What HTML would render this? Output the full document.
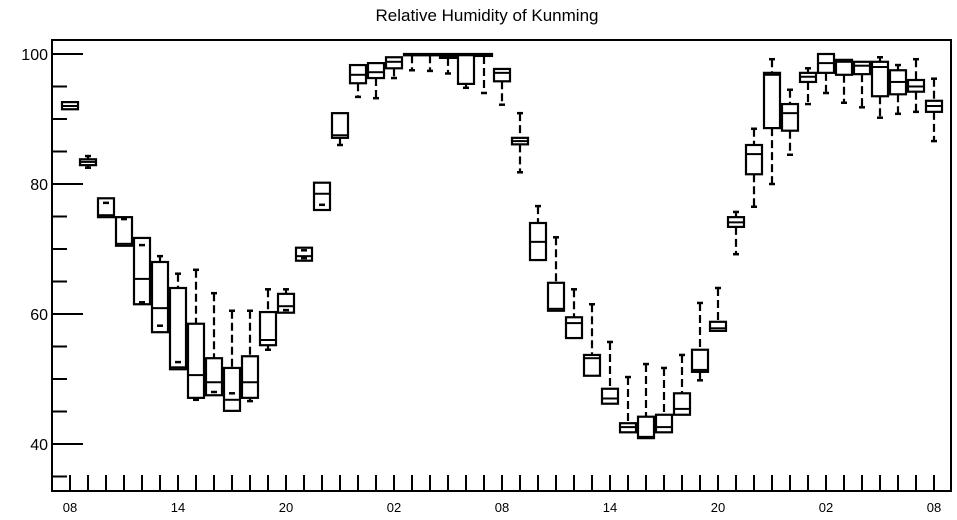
<!DOCTYPE html>
<html><head><meta charset="utf-8"><style>
html,body{margin:0;padding:0;background:#fff;}
svg{display:block;font-family:"Liberation Sans",Arial,sans-serif;}
</style></head><body>
<svg id="chart" width="957" height="520" viewBox="0 0 957 520" xmlns="http://www.w3.org/2000/svg">
<text x="487" y="21" font-size="17" text-anchor="middle">Relative Humidity of Kunming</text>
<g id="axes"></g>
<g id="boxes"></g>
<rect x="52" y="40" width="899" height="451" fill="none" stroke="#000" stroke-width="2"/>
</svg>
<script>
const xTickLabels = ["08","14","20","02","08","14","20","02","08"];
const yTickValues = [40,60,80,100];
const hiVals  = [92.6,84.3,77.1,74.6,70.6,68.9,66.2,66.8,63.2,60.5,60.5,63.8,63.8,69.8,80.2,90.9,98.3,98.6,99.5,100,100,100,100,100,97.7,90.9,76.6,71.8,63.8,61.5,55.7,50.3,52.3,51.7,53.7,61.7,64,75.7,88.5,99.2,94.5,97.8,100,99.1,98.8,99.5,98.3,99.2,96.2];
const q3Vals  = [92.6,83.8,77.8,74.9,71.7,68.0,64.0,58.5,53.2,51.7,53.5,60.3,63.1,70.2,80.2,90.9,98.3,98.6,99.5,100,100,100,100,100,97.7,87.1,74.0,64.8,59.5,53.7,48.5,43.2,44.2,44.5,47.8,54.5,58.8,74.9,86.0,97.1,92.3,97.1,100,99.1,98.8,98.8,97.5,96,92.8];
const medVals = [92,83.4,75.2,70.8,65.4,60.9,51.8,50.6,49.5,46.8,49.5,56,61.2,68.9,78.5,87.5,96.8,97.2,98.8,100,100,99.7,99.8,99.8,97.1,86.6,71.1,60.8,58.6,53.2,47.0,42.6,41.1,42.6,45.4,51.4,57.8,74.1,84.6,96.8,90.9,96.5,98.6,98.8,98.2,98,95.7,95,92];
const q1Vals  = [91.5,82.9,74.9,70.5,61.5,57.2,51.5,47.1,47.5,45.1,47.1,55.2,60.2,68.2,76.0,87.1,95.5,96.3,97.8,99.8,99.8,99.4,95.4,99.7,95.8,86.1,68.3,60.5,56.3,50.5,46.2,41.8,40.9,41.8,44.5,51.1,57.4,73.4,81.5,88.6,88.2,95.7,97.1,96.8,96.9,93.5,93.8,94.2,91.1];
const loVals  = [91.5,82.5,74.9,70.5,61.8,58.2,52.6,46.8,48,47.8,46.6,54.5,60.6,68.6,76.8,86.0,93.4,93.2,96.3,97.5,97.4,97,94.8,94,92.2,81.8,68.3,60.5,56.3,50.5,46.2,41.8,40.9,41.8,44.5,49.8,57.4,69.2,76.5,80,84.5,92.3,94,92.5,91.8,90.2,90.8,91.1,86.6];

const NS="http://www.w3.org/2000/svg";
const X0=70, DX=18, YTOP=54, PPU=6.5;
function xs(i){return X0+i*DX;}
function ys(v){return YTOP+(100-v)*PPU;}
function mk(tag,attrs,parent){const e=document.createElementNS(NS,tag);for(const k in attrs)e.setAttribute(k,attrs[k]);parent.appendChild(e);return e;}
const axes=document.getElementById('axes');
const boxes=document.getElementById('boxes');
// y ticks every 5
for(let v=35; v<=100; v+=5){
  const major = v%20===0;
  const t=mk('line',{x1:52,x2:major?83:67,y1:ys(v),y2:ys(v),stroke:'#000','stroke-width':2},axes);
  
  
}
yTickValues.forEach(v=>{
  const t=mk('text',{x:48,y:ys(v)+6,'font-size':16,'text-anchor':'end'},axes);
  t.textContent=v;
  
  
});
for(let i=0;i<hiVals.length;i++){
  const t=mk('line',{x1:xs(i),x2:xs(i),y1:475,y2:491,stroke:'#000','stroke-width':2},axes);
  
  
}
xTickLabels.forEach((s,k)=>{
  const t=mk('text',{x:xs(k*6),y:512,'font-size':13,'text-anchor':'middle'},axes);
  t.textContent=s;
  
  
});
for(let i=0;i<hiVals.length;i++){
  const g=mk('g',{},boxes);
  
  
  const x=xs(i), w=16;
  const yh=ys(hiVals[i]), y3=ys(q3Vals[i]), ym=ys(medVals[i]), y1=ys(q1Vals[i]), yl=ys(loVals[i]);
  if(yh<y3-1){
    const l=mk('line',{x1:x,x2:x,y1:yh,y2:y3,stroke:'#000','stroke-width':2.2,'stroke-dasharray':'8,4'},g);
    
    
  }
  if(hiVals[i]!==q3Vals[i]){
    const c=mk('line',{x1:x-3,x2:x+3,y1:yh,y2:yh,stroke:'#000','stroke-width':2.5},g);
    
    
  }
  if(yl>y1+1){
    const l=mk('line',{x1:x,x2:x,y1:y1,y2:yl,stroke:'#000','stroke-width':2.2,'stroke-dasharray':'8,4'},g);
    
    
  }
  if(loVals[i]!==q1Vals[i]){
    const c=mk('line',{x1:x-3,x2:x+3,y1:yl,y2:yl,stroke:'#000','stroke-width':2.5},g);
    
    
  }
  const r=mk('rect',{x:x-w/2,y:y3,width:w,height:Math.max(1,y1-y3),fill:'none',stroke:'#000','stroke-width':2.2},g);
  
  
  const m=mk('line',{x1:x-w/2,x2:x+w/2,y1:ym,y2:ym,stroke:'#000','stroke-width':2},g);
  
  
}
</script>
</body></html>
